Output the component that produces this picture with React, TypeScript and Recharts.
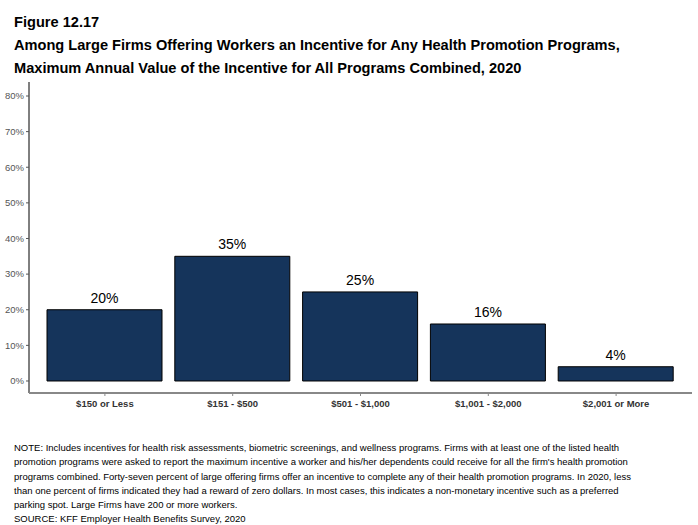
import { Bar, BarChart, LabelList, XAxis, YAxis } from 'recharts'

const categories = ['$150 or Less', '$151 - $500', '$501 - $1,000', '$1,001 - $2,000', '$2,001 or More']
const shares = [20, 35, 25, 16, 4]
const yTicks = [0, 10, 20, 30, 40, 50, 60, 70, 80]

const data = categories.map((name, i) => ({ name, value: shares[i] }))

const noteLines = [
  'NOTE: Includes incentives for health risk assessments, biometric screenings, and wellness programs. Firms with at least one of the listed health',
  "promotion programs were asked to report the maximum incentive a worker and his/her dependents could receive for all the firm's health promotion",
  'programs combined. Forty-seven percent of large offering firms offer an incentive to complete any of their health promotion programs. In 2020, less',
  'than one percent of firms indicated they had a reward of zero dollars. In most cases, this indicates a non-monetary incentive such as a preferred',
  'parking spot. Large Firms have 200 or more workers.',
  'SOURCE: KFF Employer Health Benefits Survey, 2020',
]

const font = 'Arial, "Liberation Sans", Helvetica, sans-serif'

export default function App() {
  return (
    <div style={{ position: 'absolute', left: 0, top: 0, width: 698, height: 525, background: '#fff', fontFamily: font }}>
      <div style={{ position: 'absolute', left: 14, top: 11, fontSize: 14.6, fontWeight: 'bold', color: '#000', lineHeight: '23px' }}>
        <div>Figure 12.17</div>
        <div>Among Large Firms Offering Workers an Incentive for Any Health Promotion Programs,</div>
        <div>Maximum Annual Value of the Incentive for All Programs Combined, 2020</div>
      </div>
      <div style={{ position: 'absolute', top: 0, left: 0 }}>
        <BarChart width={698} height={430} data={data} margin={{ top: 82, right: 6, bottom: 7, left: 0 }}>
          <YAxis
            width={29}
            domain={[-3.37, 83.93]}
            ticks={yTicks}
            allowDataOverflow
            tickFormatter={(v) => `${v}%`}
            tick={{ fontSize: 9.5, fill: '#555', fontFamily: font }}
            tickSize={3}
            tickMargin={2}
            axisLine={{ stroke: '#000', strokeWidth: 1 }}
            tickLine={{ stroke: '#555' }}
          />
          <XAxis
            dataKey="name"
            height={30}
            padding={{ left: 12, right: 12 }}
            tick={{ fontSize: 9.5, fill: '#333', fontWeight: 'bold', fontFamily: font }}
            tickSize={3}
            tickMargin={4}
            axisLine={{ stroke: '#888', strokeWidth: 2 }}
            tickLine={{ stroke: '#888' }}
            interval={0}
          />
          <Bar dataKey="value" fill="#15345b" stroke="#000" strokeWidth={1} barSize={115} isAnimationActive={false}>
            <LabelList
              dataKey="value"
              position="top"
              offset={7}
              formatter={(v: number) => `${v}%`}
              style={{ fontSize: 14, fill: '#000', fontFamily: font }}
            />
          </Bar>
        </BarChart>
      </div>
      <div style={{ position: 'absolute', left: 14, top: 441, fontSize: 9.5, color: '#000', lineHeight: '14.3px' }}>
        {noteLines.map((l) => (
          <div key={l} style={{ whiteSpace: 'nowrap' }}>{l}</div>
        ))}
      </div>
    </div>
  )
}
